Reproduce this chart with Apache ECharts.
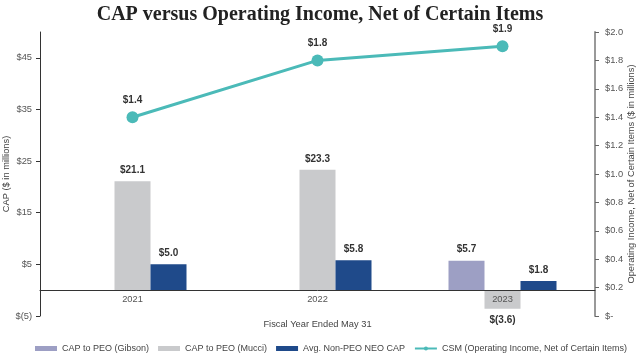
<!DOCTYPE html>
<html><head><meta charset="utf-8">
<script src="https://cdn.jsdelivr.net/npm/echarts@6/dist/echarts.min.js"></script>
<style>html,body{margin:0;padding:0;background:#fff}#c{width:640px;height:357px}</style>
</head><body><div id="c"></div>
<script>
const years = ['2021', '2022', '2023'];
const capGibson = [null, null, 5.7];
const capMucci = [21.1, 23.3, -3.6];
const neoCap = [5.0, 5.8, 1.8];
const csmIncome = [1.4, 1.8, 1.9];

const money = v => v < 0 ? '$(' + Math.abs(v).toFixed(1) + ')' : '$' + v.toFixed(1);
const lblStyle = {show: true, position: 'top', distance: 6, fontFamily: 'Liberation Sans', fontWeight: 'bold', fontSize: 10, color: '#333',
  formatter: p => p.value == null ? '' : money(p.value)};
const FS = 9.3;

const chart = echarts.init(document.getElementById('c'), null, {renderer: 'canvas'});
chart.setOption({
  animation: false,
  title: {text: 'CAP versus Operating Income, Net of Certain Items', left: 'center', top: 0,
    textStyle: {fontFamily: 'Liberation Serif', fontWeight: 'bold', fontSize: 20, color: '#222'}},
  legend: {top: 339, left: 30, width: 610, itemGap: 9, itemWidth: 22, itemHeight: 5,
    textStyle: {fontFamily: 'Liberation Sans', fontSize: 9, color: '#444'},
    data: [
      {name: 'CAP to PEO (Gibson)', icon: 'rect'},
      {name: 'CAP to PEO (Mucci)', icon: 'rect'},
      {name: 'Avg. Non-PEO NEO CAP', icon: 'rect'},
      {name: 'CSM (Operating Income, Net of Certain Items)'}
    ]},
  grid: {left: 40, right: 45, top: 32, bottom: 41, containLabel: false, outerBoundsMode: 'none'},
  xAxis: {type: 'category', data: years, z: 10,
    name: 'Fiscal Year Ended May 31', nameLocation: 'middle', nameGap: 4, nameMoveOverlap: false,
    nameTextStyle: {fontFamily: 'Liberation Sans', fontSize: FS, color: '#444'},
    axisLine: {onZero: true, lineStyle: {color: '#333', width: 1}},
    axisTick: {show: false},
    axisLabel: {fontFamily: 'Liberation Sans', fontSize: FS, color: '#555', margin: -21}},
  yAxis: [
    {type: 'value', min: -5, max: 50, interval: 10, position: 'left',
      name: 'CAP ($ in millions)', nameLocation: 'middle', nameGap: 29, nameRotate: 90, nameMoveOverlap: false,
      nameTextStyle: {fontFamily: 'Liberation Sans', fontSize: FS, color: '#444'},
      axisLine: {show: true, onZero: false, lineStyle: {color: '#333', width: 1}},
      axisTick: {show: true, inside: false, length: 4, lineStyle: {color: '#333'}},
      splitLine: {show: false},
      axisLabel: {fontFamily: 'Liberation Sans', fontSize: FS, color: '#555', margin: 8, showMaxLabel: false,
        formatter: v => v === 50 ? '' : (v < 0 ? '$(' + Math.abs(v) + ')' : '$' + v)}},
    {type: 'value', min: 0, max: 2, interval: 0.2, position: 'right',
      name: 'Operating Income, Net of Certain Items ($ in millions)', nameLocation: 'middle', nameGap: 32, nameRotate: 90, nameMoveOverlap: false,
      nameTextStyle: {fontFamily: 'Liberation Sans', fontSize: FS, color: '#444'},
      axisLine: {show: true, onZero: false, lineStyle: {color: '#999', width: 2}},
      axisTick: {show: true, inside: false, length: 4, lineStyle: {color: '#666'}},
      splitLine: {show: false},
      axisLabel: {fontFamily: 'Liberation Sans', fontSize: FS, color: '#555', margin: 10,
        formatter: v => v === 0 ? '$-' : '$' + v.toFixed(1)}}
  ],
  series: [
    {name: 'CAP to PEO (Gibson)', type: 'bar', data: capGibson, barWidth: 36, barGap: '0%',
      itemStyle: {color: '#9d9fc4'}, label: lblStyle},
    {name: 'CAP to PEO (Mucci)', type: 'bar', data: capMucci.map(v => v < 0 ? {value: v, label: {position: 'bottom'}} : v), barWidth: 36, barGap: '0%',
      itemStyle: {color: '#c9cacc'}, label: lblStyle},
    {name: 'Avg. Non-PEO NEO CAP', type: 'bar', data: neoCap, barWidth: 36, barGap: '0%',
      itemStyle: {color: '#1f4a8a'}, label: lblStyle},
    {name: 'CSM (Operating Income, Net of Certain Items)', type: 'line', yAxisIndex: 1, data: csmIncome,
      symbol: 'circle', symbolSize: 12, lineStyle: {color: '#4bbab8', width: 3}, itemStyle: {color: '#4bbab8'},
      label: {show: true, position: 'top', distance: 6, fontFamily: 'Liberation Sans', fontWeight: 'bold', fontSize: 10, color: '#333',
        formatter: p => '$' + p.value.toFixed(1)}}
  ]
});
</script></body></html>
